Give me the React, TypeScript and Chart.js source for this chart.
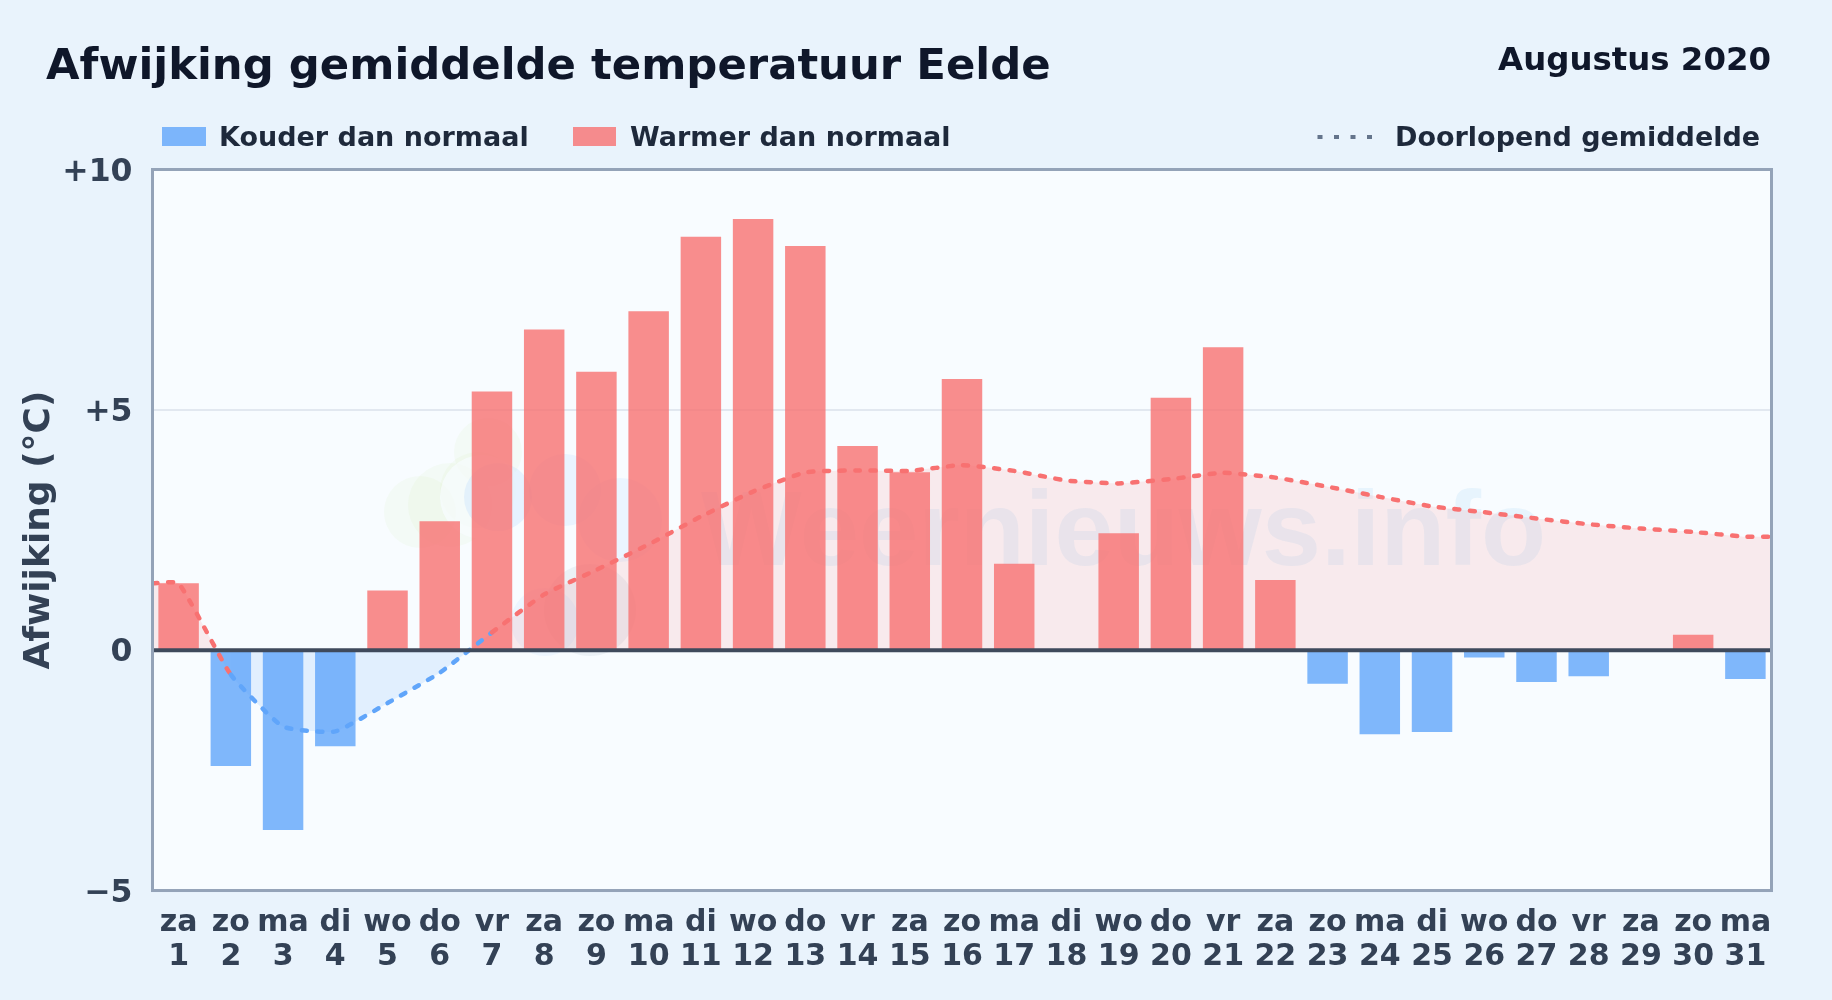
import React, { useEffect, useRef } from "react";
import { Chart, registerables } from "chart.js";

Chart.register(...registerables);

const days = [1,2,3,4,5,6,7,8,9,10,11,12,13,14,15,16,17,18,19,20,21,22,23,24,25,26,27,28,29,30,31];
const weekdays = ["za","zo","ma","di","wo","do","vr","za","zo","ma","di","wo","do","vr","za","zo","ma","di","wo","do","vr","za","zo","ma","di","wo","do","vr","za","zo","ma"];
const deviation = [1.39,-2.41,-3.74,-2.0,1.24,2.68,5.38,6.67,5.79,7.05,8.6,8.97,8.41,4.25,3.7,5.64,1.8,0,2.43,5.25,6.3,1.46,-0.7,-1.75,-1.7,-0.15,-0.66,-0.54,0,0.32,-0.6];
const runningMean = [1.39,-0.51,-1.59,-1.69,-1.1,-0.47,0.37,1.16,1.67,2.2,2.78,3.3,3.7,3.74,3.73,3.85,3.73,3.53,3.47,3.56,3.69,3.59,3.4,3.19,2.99,2.87,2.74,2.62,2.53,2.46,2.36];
const yTicks = [-5, 0, 5, 10];

const titleText = "Afwijking gemiddelde temperatuur Eelde";
const monthText = "Augustus 2020";
const coldLabel = "Kouder dan normaal";
const warmLabel = "Warmer dan normaal";
const meanLabel = "Doorlopend gemiddelde";
const yTitle = "Afwijking (°C)";
const watermark = "Weernieuws.info";

const FONT = '"DejaVu Sans", sans-serif';
const RED = "rgb(248,113,113)";
const BLUE = "rgb(96,165,250)";
const RED_BAR = "rgba(248,113,113,0.8)";
const BLUE_BAR = "rgba(96,165,250,0.8)";

const tickLabel = (v: number) => (v > 0 ? "+" + v : v < 0 ? "\u2212" + Math.abs(v) : "0");

const decor = {
  id: "decor",
  beforeDraw(chart: any) {
    const { ctx, chartArea: a } = chart;
    ctx.save();
    ctx.fillStyle = "#f8fcff";
    ctx.fillRect(a.left, a.top, a.right - a.left, a.bottom - a.top);
    ctx.beginPath();
    ctx.rect(a.left, a.top, a.right - a.left, a.bottom - a.top);
    ctx.clip();
    // faint logo
    const blob = (x: number, y: number, r: number, c: string) => {
      ctx.fillStyle = c;
      ctx.beginPath();
      ctx.arc(x, y, r, 0, Math.PI * 2);
      ctx.fill();
    };
    const green = "rgba(205,228,160,0.09)";
    blob(420, 512, 36, green);
    blob(450, 505, 42, green);
    blob(488, 452, 34, green);
    blob(478, 490, 38, green);
    blob(482, 497, 42, "rgba(248,252,255,0.7)");
    blob(498, 497, 34, "rgba(147,197,253,0.18)");
    blob(565, 490, 36, "rgba(147,197,253,0.14)");
    blob(620, 520, 42, "rgba(147,197,253,0.12)");
    blob(590, 610, 46, "rgba(148,163,184,0.12)");
    blob(545, 622, 34, "rgba(147,197,253,0.10)");
    // watermark
    ctx.fillStyle = "rgba(40,150,235,0.08)";
    ctx.font = `bold 106.6px "Liberation Sans", sans-serif`;
    ctx.textAlign = "right";
    ctx.textBaseline = "alphabetic";
    ctx.fillText(watermark, 1546, 565);
    ctx.restore();
  },
  afterDraw(chart: any) {
    const { ctx, chartArea: a, scales } = chart;
    ctx.save();
    // zero line
    const y0 = scales.y.getPixelForValue(0);
    ctx.strokeStyle = "#3f4a5c";
    ctx.lineWidth = 4;
    ctx.beginPath();
    ctx.moveTo(a.left, y0);
    ctx.lineTo(a.right, y0);
    ctx.stroke();
    // frame
    ctx.strokeStyle = "#94a3b8";
    ctx.lineWidth = 3;
    ctx.strokeRect(a.left, a.top, a.right - a.left, a.bottom - a.top);
    // header
    ctx.textBaseline = "alphabetic";
    ctx.textAlign = "left";
    ctx.fillStyle = "#0f172a";
    ctx.font = `bold 43.35px ${FONT}`;
    ctx.fillText(titleText, 46, 79);
    ctx.textAlign = "right";
    ctx.font = `bold 32.4px ${FONT}`;
    ctx.fillText(monthText, 1771, 70);
    // legend
    ctx.font = `bold 27px ${FONT}`;
    ctx.fillStyle = "#1e293b";
    ctx.textAlign = "left";
    ctx.fillText(coldLabel, 219, 146);
    ctx.fillText(warmLabel, 630, 146);
    ctx.fillText(meanLabel, 1395, 146);
    ctx.fillStyle = BLUE_BAR;
    ctx.fillRect(162, 127, 44, 19);
    ctx.fillStyle = RED_BAR;
    ctx.fillRect(573, 127, 43, 19);
    ctx.strokeStyle = "#64748b";
    ctx.lineWidth = 4;
    ctx.setLineDash([5, 11.5]);
    ctx.beginPath();
    ctx.moveTo(1317.5, 137);
    ctx.lineTo(1372, 137);
    ctx.stroke();
    ctx.restore();
  },
};

export default function App() {
  const ref = useRef<HTMLCanvasElement>(null);
  useEffect(() => {
    const warm = days.map((d, i) => ({ x: d, y: deviation[i] })).filter((p) => p.y > 0);
    const cold = days.map((d, i) => ({ x: d, y: deviation[i] })).filter((p) => p.y < 0);
    const mean = [
      { x: 0.5, y: runningMean[0] },
      ...days.map((d, i) => ({ x: d, y: runningMean[i] })),
      { x: 31.5, y: runningMean[30] },
    ];
    const chart = new Chart(ref.current as HTMLCanvasElement, {
      data: {
        datasets: [
          {
            type: "line",
            label: meanLabel,
            data: mean,
            order: 1,
            borderWidth: 4.5,
            borderDash: [5, 10.5],
            borderCapStyle: "round",
            pointRadius: 0,
            tension: 0.15,
            borderColor: RED,
            segment: {
              borderColor: (c: any) => (c.p0.parsed.y >= 0 ? RED : BLUE),
            },
            fill: {
              target: { value: 0 },
              above: "rgba(248,113,113,0.13)",
              below: "rgba(96,165,250,0.15)",
            },
          },
          {
            type: "bar",
            label: coldLabel,
            data: cold,
            order: 2,
            grouped: false,
            backgroundColor: BLUE_BAR,
            barPercentage: 0.775,
            categoryPercentage: 1,
          },
          {
            type: "bar",
            label: warmLabel,
            data: warm,
            order: 2,
            grouped: false,
            backgroundColor: RED_BAR,
            barPercentage: 0.775,
            categoryPercentage: 1,
          },
        ],
      } as any,
      options: {
        animation: false,
        responsive: false,
        devicePixelRatio: 1,
        layout: { padding: { top: 169.5, left: 18, right: 60.5, bottom: 17.5 } },
        plugins: {
          legend: { display: false },
          tooltip: { enabled: false },
          filler: { drawTime: "beforeDatasetsDraw" },
        },
        scales: {
          x: {
            type: "linear",
            min: 0.5,
            max: 31.5,
            offset: false,
            afterBuildTicks: (s: any) => {
              s.ticks = days.map((d) => ({ value: d }));
            },
            grid: { display: false },
            border: { display: false },
            ticks: {
              autoSkip: false,
              maxRotation: 0,
              minRotation: 0,
              padding: 8,
              color: "#334155",
              font: { family: FONT, size: 30, weight: "bold", lineHeight: 1.133 },
              callback: (v: any) => [weekdays[days.indexOf(v)], String(v)],
            },
          },
          y: {
            min: -5,
            max: 10,
            afterBuildTicks: (s: any) => {
              s.ticks = yTicks.map((v) => ({ value: v }));
            },
            afterFit: (s: any) => {
              s.width = 134.5;
            },
            grid: { color: "#e2e8f0", lineWidth: 2, drawTicks: false },
            border: { display: false },
            ticks: {
              padding: 20,
              labelOffset: 3,
              color: "#334155",
              font: { family: FONT, size: 31.5, weight: "bold" },
              callback: (v: any) => tickLabel(v),
            },
            title: {
              display: true,
              text: yTitle,
              color: "#334155",
              font: { family: FONT, size: 36, weight: "bold" },
              padding: { top: 0, bottom: 0 },
            },
          },
        },
      } as any,
      plugins: [decor],
    });
    return () => chart.destroy();
  }, []);
  return (
    <div style={{ position: "fixed", left: 0, top: 0, width: 1832, height: 1000, background: "#e9f3fc" }}>
      <canvas ref={ref} width={1832} height={1000} style={{ display: "block" }} />
    </div>
  );
}
